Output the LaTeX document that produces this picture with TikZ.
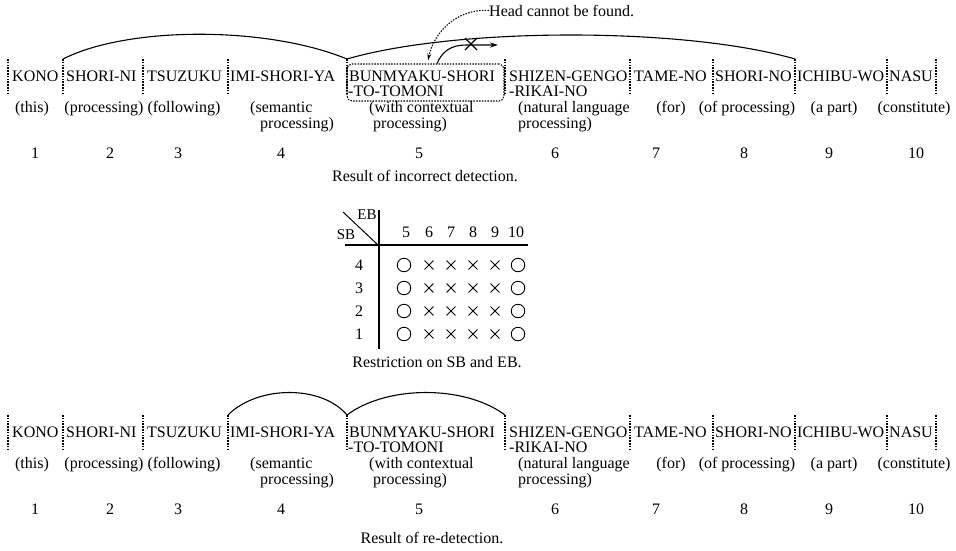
\documentclass[tikz,border=0pt]{standalone}
\usepackage{fontspec}
\setmainfont{Liberation Serif}
\usetikzlibrary{arrows.meta,calc,shapes.misc}
\newcommand\wfont{\fontsize{16}{16}\selectfont}
\begin{document}
\begin{tikzpicture}[x=1pt,y=-1pt,
  wd/.style={font=\wfont,inner sep=0pt,anchor=base west},
  gl/.style={font=\wfont,inner sep=0pt,anchor=base},
  sep/.style={line width=1.05pt,dash pattern=on 1.5pt off 1.3pt},
  arcl/.style={line width=1.1pt},
  tbl/.style={line width=1.3pt},
  okmark/.style={circle,draw,line width=0.9pt,minimum size=13.5pt,inner sep=0pt},
  ngmark/.style={cross out,draw,line width=0.9pt,minimum size=8pt,inner sep=0pt}]
\useasboundingbox (0,0) rectangle (956,550);
\fill[white] (0,0) rectangle (956,550);

\foreach \r/\o in {t/0,b/356}{
  % separators
  \foreach \x [count=\i] in {8,63,143,228,347,505,630,713,795,887,936}
    \draw[sep] (\x,59+\o) coordinate (s\i\r) -- (\x,93+\o);
  % words
  \node[wd] (w1\r) at (12,81+\o) {KONO};
  \node[wd] (w2\r) at (66,81+\o) {SHORI-NI};
  \node[wd] (w3\r) at (147,81+\o) {TSUZUKU};
  \node[wd] (w4\r) at (230,81+\o) {IMI-SHORI-YA};
  \node[wd] (w5\r) at (349,81+\o) {BUNMYAKU-SHORI};
  \node[wd] (w5\r x) at (348,96+\o) {-TO-TOMONI};
  \node[wd] (w6\r) at (509,81+\o) {SHIZEN-GENGO};
  \node[wd] (w6\r x) at (509,96+\o) {-RIKAI-NO};
  \node[wd] (w7\r) at (634,81+\o) {TAME-NO};
  \node[wd] (w8\r) at (715,81+\o) {SHORI-NO};
  \node[wd] (w9\r) at (797,81+\o) {ICHIBU-WO};
  \node[wd] (w10\r) at (889,81+\o) {NASU};
  % glosses
  \node[gl] (g1\r) at (32,112+\o) {(this)};
  \node[gl] (g2\r) at (104,112+\o) {(processing)};
  \node[gl] (g3\r) at (184,112+\o) {(following)};
  \node[wd] (g4\r) at (250,112+\o) {(semantic};
  \node[wd] (g4\r x) at (260,128+\o) {processing)};
  \node[wd] (g5\r) at (369,112+\o) {(with contextual};
  \node[wd] (g5\r x) at (373,128+\o) {processing)};
  \node[wd] (g6\r) at (518,112+\o) {(natural language};
  \node[wd] (g6\r x) at (518,128+\o) {processing)};
  \node[gl] (g7\r) at (671,112+\o) {(for)};
  \node[gl] (g8\r) at (747,112+\o) {(of processing)};
  \node[gl] (g9\r) at (834,112+\o) {(a part)};
  \node[gl] (g10\r) at (914,112+\o) {(constitute)};
  % numbers
  \foreach \n/\x in {1/35,2/110,3/178,4/281,5/419,6/555,7/656,8/744,9/829,10/916}
    \node[gl] (n\n\r) at (\x,158+\o) {\n};
}

% arcs of the first result
\draw[arcl] (s2t) .. controls +(65,-33) and +(-80,-33) .. (s5t);
\draw[arcl] (s5t) .. controls +(110,-32) and +(-110,-32) .. (s9t);
% arcs of the re-detection
\draw[arcl] (s4b) .. controls +(30,-30) and +(-25,-30) .. (s5b);
\draw[arcl] (s5b) .. controls +(40,-30) and +(-40,-30) .. (s6b);

% dotted box and head search
\node[draw,sep,rounded corners=5pt,minimum width=157pt,minimum height=37pt,inner sep=0pt] (box) at (425.5,82.5) {};
\coordinate (hx) at (498,45);
\draw[line width=1.1pt,-{Stealth[length=8pt,width=5pt]}]
  ($(box.north west)!0.573!(box.north east)$) .. controls +(5,-12) and +(-15,0) .. (466,45) -- (hx);
\draw[line width=1.1pt] (465,38) -- (477,50) (465,50) -- (477,38);
\node[wd] (hd) at (489,16) {Head cannot be found.};
\draw[sep,-{Stealth[length=7pt,width=4pt]}]
  (hd.west) .. controls +(-35,-2) and +(5,-25) .. ($(box.north west)!0.516!(box.north east)+(0,-3)$);

\node[gl] (cap1) at (425,181) {Result of incorrect detection.};

% table
\draw[tbl] (379,210) -- (379,349);
\draw[tbl] (345,245) -- (528,245);
\draw[line width=1pt] (343,212) -- (378,245);
\node[gl,font=\fontsize{15}{15}\selectfont] (eb) at (367,219) {EB};
\node[gl,font=\fontsize{15}{15}\selectfont] (sb) at (346,239) {SB};
\foreach \c/\x in {5/406,6/429,7/451,8/473,9/495,10/516}
  \node[gl] (h\c) at (\x,237) {\c};
\foreach \rr/\y in {4/265,3/288,2/311,1/334}{
  \node[gl] (r\rr) at (359,\y+5.5) {\rr};
  \node[okmark] (m\rr-5) at (404,\y) {};
  \foreach \c/\x in {6/429,7/451,8/473,9/495}
    \node[ngmark] (m\rr-\c) at (\x,\y) {};
  \node[okmark] (m\rr-10) at (518,\y) {};
}
\node[gl] (cap2) at (437,367) {Restriction on SB and EB.};
\node[gl] (cap3) at (432,543) {Result of re-detection.};
\end{tikzpicture}
\end{document}
